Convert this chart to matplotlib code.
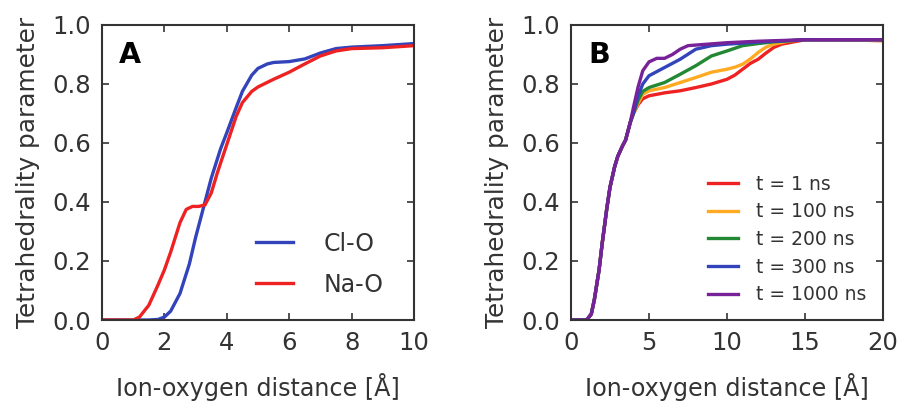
import matplotlib
matplotlib.use("Agg")
import matplotlib.pyplot as plt

# Panel A: tetrahedrality vs ion-oxygen distance
cl_x = [0, 1.5, 1.8, 2.0, 2.2, 2.5, 2.8, 3.0, 3.3, 3.5, 3.8, 4.0, 4.3, 4.5, 4.8,
        5.0, 5.3, 5.5, 6.0, 6.5, 7.0, 7.5, 8.0, 9.0, 10.0]
cl_y = [0, 0, 0.002, 0.01, 0.03, 0.09, 0.19, 0.28, 0.40, 0.48, 0.58, 0.635, 0.72,
        0.775, 0.83, 0.853, 0.868, 0.873, 0.876, 0.885, 0.905, 0.92, 0.925, 0.93, 0.937]

na_x = [0, 1.0, 1.2, 1.5, 1.8, 2.0, 2.2, 2.5, 2.7, 2.9, 3.1, 3.3, 3.5, 3.7, 4.0,
        4.3, 4.5, 4.8, 5.0, 5.5, 6.0, 6.5, 7.0, 7.5, 8.0, 9.0, 10.0]
na_y = [0, 0, 0.01, 0.05, 0.12, 0.17, 0.23, 0.33, 0.375, 0.385, 0.385, 0.39, 0.43,
        0.50, 0.595, 0.69, 0.737, 0.775, 0.79, 0.816, 0.84, 0.868, 0.895, 0.912,
        0.92, 0.923, 0.93]

# Panel B: time evolution
rise_x = [0, 1.0, 1.3, 1.5, 1.8, 2.0, 2.3, 2.5, 2.8, 3.0, 3.3, 3.5, 3.8, 4.0]
rise_y = [0, 0, 0.02, 0.07, 0.17, 0.26, 0.38, 0.45, 0.52, 0.555, 0.59, 0.61, 0.67, 0.70]

t1_x = rise_x + [4.3, 4.6, 5, 6, 7, 8, 9, 10, 10.5, 11, 11.5, 12, 12.5, 13, 13.5, 14, 15, 17, 20]
t1_y = rise_y + [0.73, 0.75, 0.76, 0.77, 0.777, 0.788, 0.80, 0.816, 0.83, 0.85, 0.87,
                 0.884, 0.905, 0.924, 0.935, 0.94, 0.95, 0.95, 0.947]

t100_x = rise_x + [4.3, 4.6, 5, 6, 7, 8, 9, 10, 10.5, 11, 11.5, 12, 12.5, 13, 14, 15, 17, 20]
t100_y = rise_y + [0.735, 0.765, 0.777, 0.788, 0.805, 0.822, 0.84, 0.85, 0.857, 0.867,
                   0.885, 0.907, 0.925, 0.935, 0.946, 0.95, 0.95, 0.947]

t200_x = rise_x + [4.3, 4.6, 5, 6, 7, 8, 9, 10, 11, 12, 13, 15, 20]
t200_y = rise_y + [0.745, 0.775, 0.788, 0.805, 0.833, 0.862, 0.895, 0.912, 0.93,
                   0.937, 0.943, 0.95, 0.95]

t300_x = rise_x + [4.3, 4.6, 5, 6, 7, 8, 9, 10, 12, 15, 20]
t300_y = rise_y + [0.76, 0.80, 0.828, 0.856, 0.884, 0.918, 0.93, 0.935, 0.942, 0.95, 0.95]

t1000_x = rise_x + [4.3, 4.6, 5, 5.5, 6, 6.5, 7, 7.5, 8, 10, 12, 15, 20]
t1000_y = rise_y[:-1] + [0.72] + [0.79, 0.845, 0.875, 0.887, 0.887, 0.90, 0.918, 0.93,
                                   0.932, 0.94, 0.945, 0.95, 0.95]

labels_b = ["t = 1 ns", "t = 100 ns", "t = 200 ns", "t = 300 ns", "t = 1000 ns"]
colors_b = ["#ee2222", "#ffaa22", "#228833", "#3344bb", "#772299"]

text_color = "#333333"
plt.rcParams["font.family"] = "DejaVu Sans"

fig = plt.figure(figsize=(9.01, 4.07), dpi=100)
axA = fig.add_axes([102 / 901, 87 / 407, 312 / 901, 295 / 407])
axB = fig.add_axes([571 / 901, 87 / 407, 312 / 901, 295 / 407])

lw = 2.4
axA.plot(cl_x, cl_y, color="#3344bb", lw=lw, label="Cl-O")
axA.plot(na_x, na_y, color="#ee2222", lw=lw, label="Na-O")
axA.set_xlim(0, 10)
axA.set_xticks([0, 2, 4, 6, 8, 10])

series_b = [(t1_x, t1_y), (t100_x, t100_y), (t200_x, t200_y), (t300_x, t300_y), (t1000_x, t1000_y)]
for (xs, ys), lab, c in zip(series_b, labels_b, colors_b):
    axB.plot(xs, ys, color=c, lw=lw, label=lab)
axB.set_xlim(0, 20)
axB.set_xticks([0, 5, 10, 15, 20])

for ax, letter in ((axA, "A"), (axB, "B")):
    ax.set_ylim(0, 1.0)
    ax.set_yticks([0, 0.2, 0.4, 0.6, 0.8, 1.0])
    ax.tick_params(direction="in", length=5, width=1.2, top=True, right=True,
                   labelsize=17.5, colors=text_color, labelcolor=text_color, pad=8)
    ax.tick_params(axis="x", pad=8)
    for s in ax.spines.values():
        s.set_linewidth(1.5)
        s.set_color("#333333")
    ax.set_xlabel("Ion-oxygen distance [Å]", fontsize=17.2, color=text_color, labelpad=13)
    ax.set_ylabel("Tetrahedrality parameter", fontsize=17.8, color=text_color, labelpad=9)
    ax.text(0.055, 0.87, letter, transform=ax.transAxes, fontsize=20.5,
            fontweight="bold", color="black")

axA.legend(loc="lower right", frameon=False, fontsize=17, handlelength=1.6,
           handletextpad=1.27, labelspacing=0.72, bbox_to_anchor=(0.97, 0.007),
           labelcolor=text_color)
axB.legend(loc="lower right", frameon=False, fontsize=13.5, handlelength=1.6,
           handletextpad=0.95, labelspacing=0.46, bbox_to_anchor=(1.0, -0.004),
           labelcolor=text_color)

fig.savefig("out.png", dpi=100)
